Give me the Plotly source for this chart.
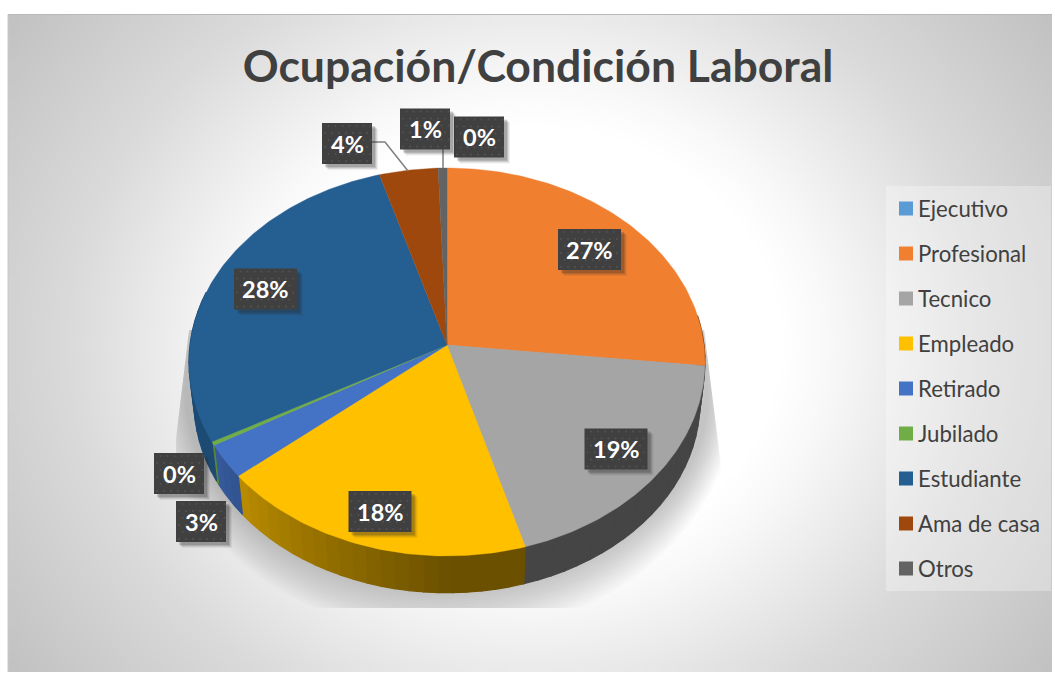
import math
import numpy as np
import plotly.graph_objects as go

# ---- data ----
categories = ["Ejecutivo", "Profesional", "Tecnico", "Empleado", "Retirado",
              "Jubilado", "Estudiante", "Ama de casa", "Otros"]
percent_values = [0.0, 26.7, 18.8, 18.4, 2.8, 0.3, 28.4, 4.0, 0.6]
slice_colors = ["#5B9BD5", "#F07F30", "#A5A5A5", "#FFC000", "#4472C4",
                "#70AD47", "#255E91", "#9E480E", "#636363"]
title_text = "Ocupación/Condición Laboral"

# label box centres (pixels of the chart area)
label_cx = [479, 589.5, 616, 380, 201, 179, 265.5, 347, 425]
label_cy = [137, 249.5, 449, 511.5, 521.5, 473.5, 289, 143.5, 129]

W, H = 1055, 673
CX, CY, A, B, K = 447, 345, 257, 192.5, 0.0876
WALL_S, WALL_DY = 0.98, 41


def rim(theta, s=1.0, dy=0.0):
    X, Y = math.sin(theta), math.cos(theta)
    d = 1 + K * Y
    return CX + s * A * X / d, CY + dy - s * B * Y / d


def shade(deg):
    if deg <= 180:
        return 0.42
    return min(0.80, 0.42 + (deg - 180) * 0.0062)


def scaled(hex_color, f):
    r, g, b = (int(hex_color[i:i + 2], 16) for i in (1, 3, 5))
    return f"rgb({int(r * f)},{int(g * f)},{int(b * f)})"


fig = go.Figure()

# background: soft radial gradient (heatmap cells reach half a step past their centres)
NX, NY = 90, 60
hx, hy = (1052 - 8) / NX / 2, (672 - 15) / NY / 2
gx = np.linspace(8 + hx, 1052 - hx, NX)
gy = np.linspace(15 + hy, 672 - hy, NY)
gz = []
for yy in gy:
    row = []
    for xx in gx:
        dist = math.hypot(xx - 530, (yy - 343) / 0.87)
        row.append(float(np.interp(dist, [0, 250, 300, 370, 460, 650],
                                   [255, 255, 248, 235, 218, 192])))
    gz.append(row)
fig.add_trace(go.Heatmap(x=gx, y=gy, z=gz, zmin=0, zmax=255, zsmooth="best",
                         colorscale=[[0, "#000000"], [1, "#ffffff"]],
                         showscale=False, hoverinfo="skip"))

# soft shadow under the pie
for r in range(0, 48, 3):
    ts = np.linspace(0, 2 * np.pi, 240)
    sy = np.clip(392 - (198 + r) * np.cos(ts), 330, 608)
    sx = 447 + (262 + r * 0.6) * np.sin(ts)
    left = np.maximum(176, 190 - (sy - 322) * 0.12)
    right = np.minimum(722, 706 + (sy - 345) * 0.125)
    sx = np.clip(sx, left, right)
    fig.add_trace(go.Scatter(x=sx, y=sy, mode="lines", fill="toself", line=dict(width=0),
                             fillcolor="rgba(70,70,70,0.025)", hoverinfo="skip", showlegend=False))

# side wall and top surface built from the values
total = sum(percent_values)
start = 0.0
bounds = []
for v in percent_values:
    bounds.append((start, start + v / total * 2 * math.pi))
    start += v / total * 2 * math.pi

for (a0, a1), col in zip(bounds, slice_colors):
    if a1 <= a0:
        continue
    n = max(2, int(math.degrees(a1 - a0) / 3))
    th = np.linspace(a0, a1, n + 1)
    for i in range(n):
        mid = math.degrees((th[i] + th[i + 1]) / 2)
        if 80 < mid < 285:
            p0, p1 = rim(th[i]), rim(th[i + 1])
            q1, q0 = rim(th[i + 1], WALL_S, WALL_DY), rim(th[i], WALL_S, WALL_DY)
            c = scaled(col, shade(mid))
            fig.add_trace(go.Scatter(x=[p0[0], p1[0], q1[0], q0[0], p0[0]],
                                     y=[p0[1], p1[1], q1[1], q0[1], p0[1]],
                                     mode="lines", fill="toself", fillcolor=c,
                                     line=dict(color=c, width=1.2),
                                     hoverinfo="skip", showlegend=False))

for (a0, a1), col, name in zip(bounds, slice_colors, categories):
    if a1 <= a0:
        continue
    th = np.linspace(a0, a1, max(3, int(math.degrees(a1 - a0)) + 2))
    pts = [rim(t) for t in th]
    fig.add_trace(go.Scatter(x=[CX] + [p[0] for p in pts] + [CX],
                             y=[CY] + [p[1] for p in pts] + [CY],
                             mode="lines", fill="toself", fillcolor=col,
                             line=dict(color=col, width=0.4),
                             name=name, hoverinfo="name", showlegend=False))

# leader lines
fig.add_trace(go.Scatter(x=[372, 385, 408], y=[142, 142, 171], mode="lines",
                         line=dict(color="#7f7f7f", width=1.5), hoverinfo="skip", showlegend=False))
fig.add_trace(go.Scatter(x=[443, 443], y=[149, 168], mode="lines",
                         line=dict(color="#7f7f7f", width=1.5), hoverinfo="skip", showlegend=False))

# data labels: dark dotted boxes with a shadow
annotations = []
for v, bx, by in zip(percent_values, label_cx, label_cy):
    txt = f"{int(v + 0.5)}%"
    hw = 31.5 if len(txt) == 3 else 25
    hh = 20.5
    for off, op in ((6, 0.07), (5, 0.10), (4, 0.14), (3, 0.18)):
        fig.add_trace(go.Scatter(x=[bx - hw + off, bx + hw + off, bx + hw + off, bx - hw + off, bx - hw + off],
                                 y=[by - hh + off, by - hh + off, by + hh + off, by + hh + off, by - hh + off],
                                 mode="lines", fill="toself", line=dict(width=0),
                                 fillcolor=f"rgba(40,40,40,{op})", hoverinfo="skip", showlegend=False))
    fig.add_trace(go.Scatter(x=[bx - hw, bx + hw, bx + hw, bx - hw, bx - hw],
                             y=[by - hh, by - hh, by + hh, by + hh, by - hh],
                             mode="lines", fill="toself", line=dict(width=0),
                             fillcolor="#404040", hoverinfo="skip", showlegend=False))
    dx, dy = [], []
    for j, yy in enumerate(np.arange(by - hh + 3, by + hh, 7)):
        for xx in np.arange(bx - hw + (3 if j % 2 else 6.5), bx + hw - 1, 7):
            dx.append(xx)
            dy.append(yy)
    fig.add_trace(go.Scatter(x=dx, y=dy, mode="markers", marker=dict(size=2, color="#525252"),
                             hoverinfo="skip", showlegend=False))
    annotations.append(dict(x=bx, y=by, xref="x", yref="y", text=f"<b>{txt}</b>", showarrow=False,
                            font=dict(family="Lato", size=23.5, color="#ffffff"),
                            xanchor="center", yanchor="middle"))

# legend panel
fig.add_trace(go.Scatter(x=[886, 1051, 1051, 886, 886], y=[186, 186, 591, 591, 186], mode="lines",
                         fill="toself", line=dict(width=0), fillcolor="rgba(255,255,255,0.30)",
                         hoverinfo="skip", showlegend=False))
for i, (name, col) in enumerate(zip(categories, slice_colors)):
    yy = 208.5 + 45 * i
    fig.add_trace(go.Scatter(x=[906], y=[yy], mode="markers", name=name,
                             marker=dict(symbol="square", size=14, color=col, line=dict(width=0)),
                             hoverinfo="name", showlegend=False))
    annotations.append(dict(x=915.5, y=yy - 0.5, xref="x", yref="y", text=name, showarrow=False,
                            font=dict(family="Lato", size=22.2, color="#404040"),
                            xanchor="left", yanchor="middle"))

fig.update_layout(
    width=W, height=H, autosize=False,
    margin=dict(l=0, r=0, t=0, b=0),
    paper_bgcolor="#ffffff", plot_bgcolor="#ffffff",
    title=dict(text=f"<b>{title_text}</b>", x=538 / W, y=1 - 66 / H, xanchor="center", yanchor="middle",
               font=dict(family="Lato", size=44.5, color="#404040")),
    xaxis=dict(range=[0, W], visible=False, fixedrange=True),
    yaxis=dict(range=[H, 0], visible=False, fixedrange=True),
    annotations=annotations,
    shapes=[dict(type="line", x0=8, x1=1052, y0=14.5, y1=14.5, xref="x", yref="y",
                 line=dict(color="#b8b8b8", width=1), layer="above"),
            dict(type="line", x0=8, x1=8, y0=14.5, y1=672, xref="x", yref="y",
                 line=dict(color="#c8c8c8", width=1), layer="above")],
    showlegend=False,
)

fig.write_html("out.html", config={"displayModeBar": False},
               post_script="document.body.style.margin='0';document.body.style.overflow='hidden';")
